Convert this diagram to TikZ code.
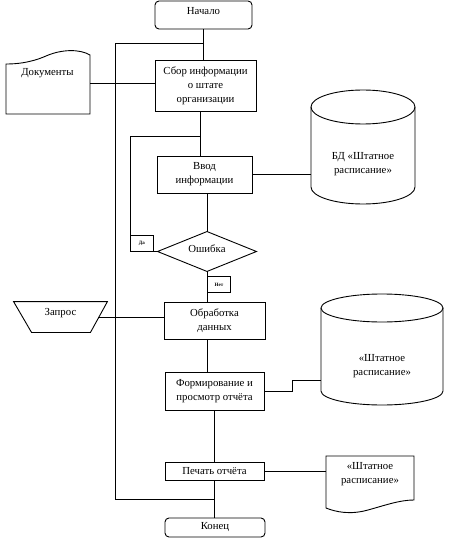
\documentclass[tikz,border=0pt]{standalone}
\usepackage{fontspec}
\setmainfont{Liberation Serif}
\newcommand\fmain{\fontsize{10.8}{14.2}\selectfont}
\newcommand\fsmall{\fontsize{5}{6}\selectfont\bfseries}
\begin{document}
\begin{tikzpicture}[x=1bp,y=-1bp,line width=0.9bp,
  proc/.style={draw,inner sep=0pt,align=center,font=\fmain},
  term/.style={proc,rounded corners=4bp},
  frame/.style={inner sep=0pt,align=center,font=\fmain},
  txt/.style={inner sep=0pt,align=center,font=\fmain},
  lbl/.style={draw,inner sep=0pt,font=\fsmall,minimum width=23bp,minimum height=16bp}]
\fill[white] (0,0) rectangle (459,543);
\useasboundingbox (0,0) rectangle (459,543);

% terminals and processes
\node[term,minimum width=97bp,minimum height=28bp] (start) at (203.5,15) {};
\node[txt] (starttxt) at (203.5,11) {Начало};
\node[proc,minimum width=101bp,minimum height=51bp] (sbor) at (205.5,85.5) {Сбор информации\\о штате\\организации};
\node[proc,minimum width=95bp,minimum height=37bp] (vvod) at (204.5,174.5) {Ввод\\информации};
\node[frame,minimum width=98bp,minimum height=39bp] (dia) at (207,251.5) {};
\draw (dia.west) -- (dia.north) -- (dia.east) -- (dia.south) -- cycle;
\node[txt] (diatxt) at (207,249) {Ошибка};
\node[proc,minimum width=101bp,minimum height=37bp] (obr) at (214.5,320.5) {Обработка\\данных};
\node[proc,minimum width=99bp,minimum height=38bp] (form) at (214.5,391) {Формирование и\\просмотр отчёта};
\node[proc,minimum width=99bp,minimum height=18bp] (pech) at (214.5,471) {Печать отчёта};
\node[term,minimum width=100bp,minimum height=19bp] (kon) at (215,527.5) {Конец};

% labels
\node[lbl,anchor=south west] (da) at (130,251.5) {Да};
\node[lbl,anchor=north west] (net) at (207,276) {Нет};

% document 1
\node[frame,minimum width=84bp,minimum height=63bp] (doc1) at (48,83.5) {};
\draw (6,64) -- (6,114) -- (90,114) -- (90,55)
  .. controls (80,49) and (62,49) .. (46,56)
  .. controls (30,63) and (16,64) .. (6,64) -- cycle;
\node[txt] (doc1txt) at (47.5,73.5) {Документы};

% cylinder 1
\node[frame,minimum width=104bp,minimum height=114bp] (cyl1) at (363,147) {};
\draw (363,107) ellipse [x radius=52bp,y radius=17bp];
\draw (311,107) -- (311,187) arc[start angle=180,end angle=360,x radius=52bp,y radius=17bp] -- (415,107);
\node[txt] (cyl1txt) at (363,164) {БД «Штатное\\расписание»};

% trapezoid
\node[frame,minimum width=93bp,minimum height=30bp] (zap) at (60.5,317) {};
\draw (zap.north west) -- (zap.north east) -- ([xshift=-17bp]zap.south east) -- ([xshift=18bp]zap.south west) -- cycle;
\node[txt] (zaptxt) at (60.5,313.5) {Запрос};

% cylinder 2
\node[frame,minimum width=122bp,minimum height=111bp] (cyl2) at (382,349.5) {};
\draw (382,308) ellipse [x radius=61bp,y radius=14bp];
\draw (321,308) -- (321,391) arc[start angle=180,end angle=360,x radius=61bp,y radius=14bp] -- (443,308);
\node[txt] (cyl2txt) at (382,366) {«Штатное\\расписание»};

% document 2
\node[frame,minimum width=88bp,minimum height=56bp] (doc2) at (370,484) {};
\draw (326,456) -- (414,456) -- (414,500)
  .. controls (400,500) and (386,505) .. (368,510)
  .. controls (350,515) and (336,512) .. (326,508) -- cycle;
\node[txt] (doc2txt) at (370,474.5) {«Штатное\\расписание»};

% connectors
\coordinate (ja) at (115,43);
\coordinate (jb) at (115,499);
\coordinate (jc) at (200,136);
\coordinate (jd) at (292,380);
\draw (start.south) -- (start.south |- sbor.north);
\draw (start.south |- ja) -- (ja) -- (jb) -- (pech.south |- jb);
\draw (doc1.east) -- (doc1.east -| sbor.west);
\draw (sbor.south -| jc) -- (vvod.north -| jc);
\draw (jc) -| (da.south west) -- (dia.west);
\draw (vvod.east) -- (vvod.east -| cyl1.west);
\draw (vvod.south -| dia.north) -- (dia.north);
\draw (dia.south) -- (dia.south |- obr.north);
\draw ([xshift=-9bp]zap.east) -- (zap.east -| obr.west);
\draw (obr.south -| dia.south) -- (form.north -| dia.south);
\draw (form.east) -| (jd) -- (jd -| cyl2.west);
\draw (form.south -| pech.south) -- (pech.north);
\draw (pech.east) -- (pech.east -| doc2.west);
\draw (pech.south) -- (kon.north -| pech.south);
\end{tikzpicture}
\end{document}
